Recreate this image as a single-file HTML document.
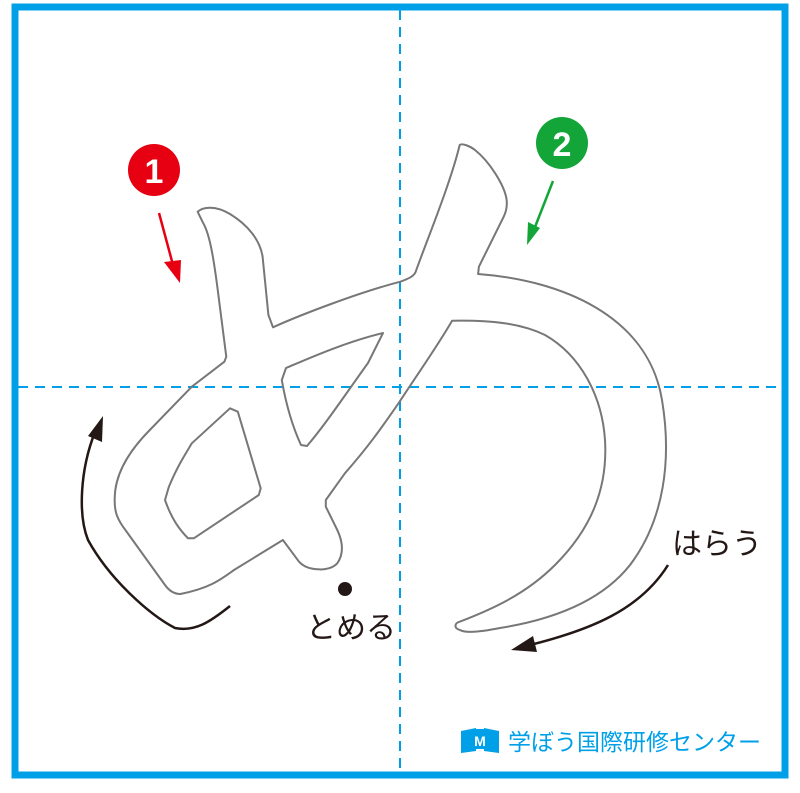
<!DOCTYPE html>
<html><head><meta charset="utf-8"><style>
html,body{margin:0;padding:0;background:#fff;}
body{width:800px;height:788px;position:relative;overflow:hidden;font-family:"Liberation Sans","Noto Sans CJK JP",sans-serif;}
</style></head><body>
<svg width="800" height="788" viewBox="0 0 800 788" xmlns="http://www.w3.org/2000/svg">
<rect x="15" y="7" width="770" height="768" fill="none" stroke="#00a0e9" stroke-width="7"/>
<line x1="400" y1="10" x2="400" y2="772" stroke="#00a0e9" stroke-width="2" stroke-dasharray="10,7"/>
<line x1="18" y1="387" x2="782" y2="387" stroke="#00a0e9" stroke-width="2" stroke-dasharray="10,7"/>
<path fill="none" stroke="#777" stroke-width="2" stroke-linejoin="round" d="M197.6,211.7 C203,207 215,205 230,214 C248,225 260,240 262.6,256.7 L268.4,315 L273,327.3 C300,315 360,292 400.4,281.7 C410,278 414,276 415.7,271.7 C425,245 450,185 459.7,145 C462,143 470,146 475,150 C490,162 504,185 506.4,198.3 C508,208 505,214 503.7,216.7 L478.9,266.7 L478.1,274 C560,280 648,315 662,400 C672,460 664,520 630,565 C600,603 550,620 500,628 C480,632 465,633 460,630 C453,628 455,623 459.7,621.7 C490,610 525,595 555,565 C590,530 608,490 605,440 C602,395 580,355 545,335 C520,323 490,320 452.1,320.7 C438,345 425,363 398.5,403.3 C380,430 368,447 344.9,473.3 L325.8,500 L325.8,506.7 L337.3,530 C342,540 345,552 337.3,563.3 C333,568 325,570 318.1,569.3 C308,569 302,565 299,561.7 L282.9,540 L234,570 C220,580 210,588 180.4,594 C175,594 170,592 165,585 L123,526.7 C117,518 113,510 115.3,490 C118,470 130,450 149.8,430 L191.8,386.7 L224.4,361.7 L226.3,356.7 L218.6,296.7 C214,260 210,235 203.3,223.3 Z"/>
<path fill="none" stroke="#777" stroke-width="2" stroke-linejoin="round" d="M383,333 C345,342 305,360 286,368 L281.8,380 C287,410 295,432 301,445 L307,446 C325,425 345,395 368,363 Z"/>
<path fill="none" stroke="#777" stroke-width="2" stroke-linejoin="round" d="M230,408.3 L237.8,411.7 L260.7,488.3 L258.8,495 L193.8,538.3 L188,538.3 C180,530 172,520 165,500 L168.9,486.7 C178,465 185,455 191.8,443.3 Z"/>
<circle cx="154" cy="170" r="26" fill="#e60012"/>
<text x="154" y="183" font-size="34" font-weight="bold" fill="#fff" text-anchor="middle" font-family="Liberation Sans,sans-serif">1</text>
<line x1="159" y1="213" x2="173" y2="265" stroke="#e60012" stroke-width="2.5"/>
<polygon points="164,262 181,260 180,283" fill="#e60012"/>
<circle cx="562" cy="143" r="26" fill="#13a538"/>
<text x="562" y="156" font-size="34" font-weight="bold" fill="#fff" text-anchor="middle" font-family="Liberation Sans,sans-serif">2</text>
<line x1="553" y1="181" x2="535" y2="227" stroke="#13a538" stroke-width="2.5"/>
<polygon points="527,245 528,222 540,228" fill="#13a538"/>
<path d="M230,606 C210,622 195,632 175,628 C150,615 110,580 88,540 C78,515 80,470 95,432" fill="none" stroke="#231815" stroke-width="2.5"/>
<polygon points="103,416 102,442 88,436" fill="#231815"/>
<path d="M668,565 C640,610 590,630 530,645" fill="none" stroke="#231815" stroke-width="2.5"/>
<polygon points="511,650 533,636 537,652" fill="#231815"/>
<circle cx="345" cy="589" r="7" fill="#231815"/>
<text x="351" y="638" font-size="30" fill="#231815" text-anchor="middle" font-family="Liberation Sans,Noto Sans CJK JP,sans-serif">とめる</text>
<text x="717" y="554" font-size="30" fill="#231815" text-anchor="middle" font-family="Liberation Sans,Noto Sans CJK JP,sans-serif">はらう</text>
<g fill="#00a0e9">
<path d="M461,731 L476,728 L476,751 L461,753 Z"/>
<path d="M484,728 L499,731 L499,753 L484,751 Z"/>
<rect x="473" y="729" width="14" height="20"/>
</g>
<text x="480" y="746" font-size="14" font-weight="bold" fill="#fff" text-anchor="middle" font-family="Liberation Sans,sans-serif">M</text>
<text x="508" y="750" font-size="23" fill="#00a0e9" font-family="Liberation Sans,Noto Sans CJK JP,sans-serif">学ぼう国際研修センター</text>
</svg>
</body></html>
